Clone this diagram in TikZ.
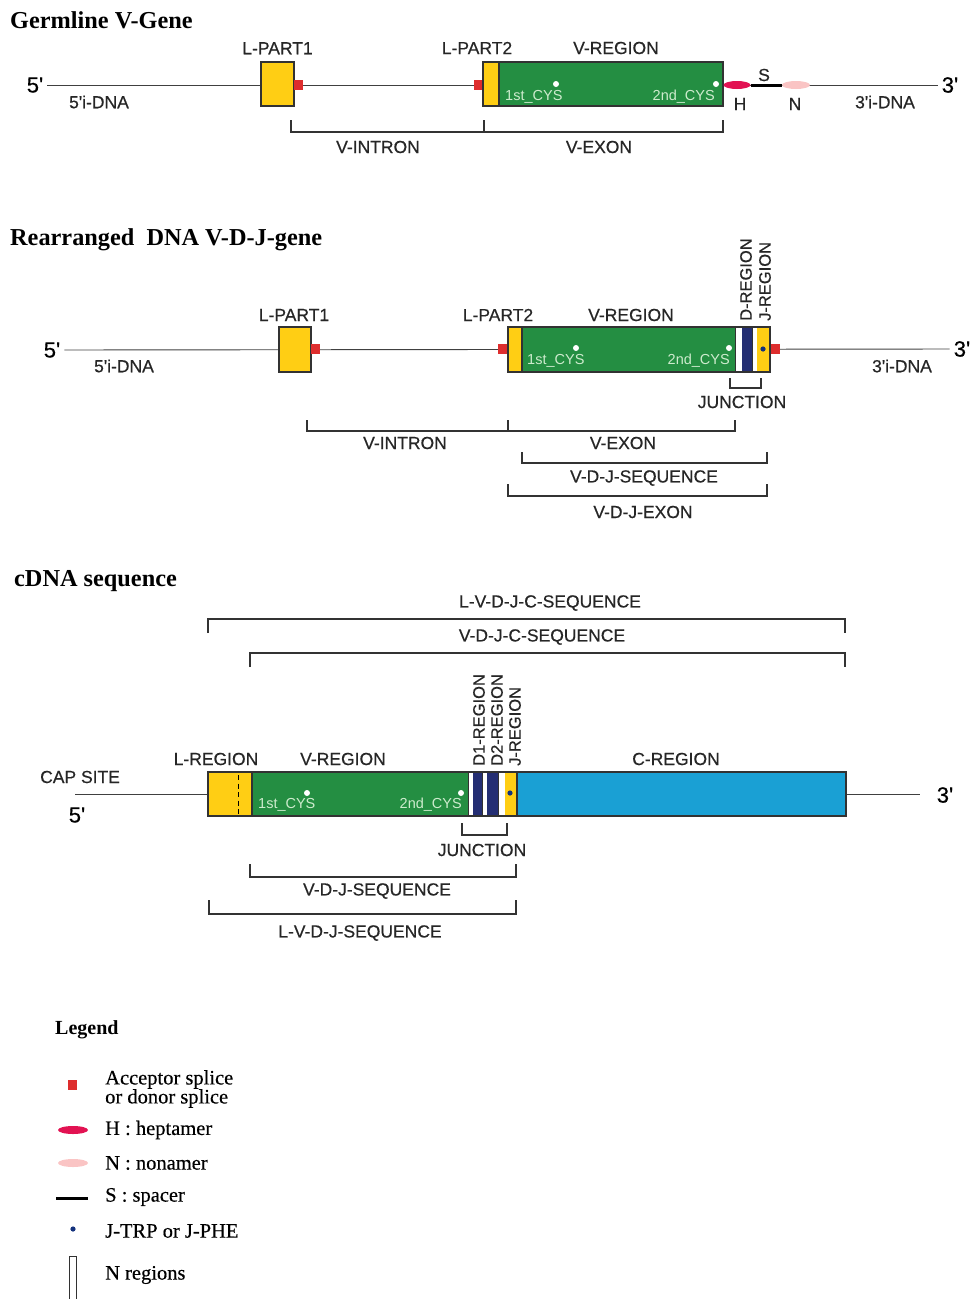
\documentclass[tikz,border=0pt]{standalone}
\usepackage{fontspec}
\setmainfont{Liberation Serif}
\setsansfont{Liberation Sans}
\newfontfamily\lblfont{Liberation Sans}[FakeBold=0.5]
\newfontfamily\legfont{Liberation Serif}[FakeBold=0.4]
\usepackage{tikz}
\usetikzlibrary{shapes.geometric, positioning}
\definecolor{LYellow}{RGB}{255, 206, 20}
\definecolor{VGreen}{RGB}{36, 142, 66}
\definecolor{DBlue}{RGB}{36, 46, 115}
\definecolor{CCyan}{RGB}{26, 160, 212}
\definecolor{SpliceRed}{RGB}{222, 45, 45}
\definecolor{HeptRed}{RGB}{226, 18, 82}
\definecolor{NonaPink}{RGB}{250, 196, 196}
\definecolor{JDot}{RGB}{20, 50, 125}
\definecolor{CysText}{RGB}{205, 235, 205}
\definecolor{Edge}{RGB}{50, 50, 50}

\begin{document}
\begin{tikzpicture}[
    x=1pt, y=-1pt,
    every node/.style={inner sep=0pt},
    lbl/.style={font=\lblfont\fontsize{17.5}{17.5}\selectfont, text=black!85},
    cys/.style={font=\sffamily\fontsize{14.5}{14.5}\selectfont, text=CysText},
    rlbl/.style={font=\lblfont\fontsize{16.5}{16.5}\selectfont, text=black!85, rotate=90, anchor=west},
    prime/.style={font=\lblfont\fontsize{22}{22}\selectfont, inner sep=4pt},
    title/.style={font=\bfseries\fontsize{24.3}{24.3}\selectfont, anchor=west},
    leg/.style={font=\legfont\fontsize{20.5}{19}\selectfont, anchor=west, align=left},
    edge/.style={draw=Edge, line width=1.1pt},
    yelbox/.style={rectangle, edge, fill=LYellow},
    outline/.style={rectangle, edge},
    nreg/.style={draw=Edge, line width=0.8pt, fill=white},
    dna/.style={draw=black!75, line width=0.9pt},
    brk/.style={draw=black!80, line width=1.1pt},
    splice/.style={rectangle, fill=SpliceRed, minimum width=9pt, minimum height=10pt},
    hept/.style={ellipse, fill=HeptRed, minimum width=27pt, minimum height=8pt},
    nona/.style={ellipse, fill=NonaPink, minimum width=28pt, minimum height=8pt},
    spacer/.style={draw=black, line width=3pt},
    cysdot/.style={fill=white},
    jdot/.style={fill=JDot}
  ]
    \useasboundingbox (0,0) rectangle (971,1299);

    % ---------------- Germline V-Gene ----------------
    \node[title] (gtitle) at (10,20) {Germline V-Gene};
    \node[prime] (g5) at (35,85) {5\textquotesingle};
    \node[prime] (g3) at (950,85) {3\textquotesingle};
    \draw[dna] (g5) -- (g3);
    \node[lbl] at (99,102) {5\textquotesingle i-DNA};
    \node[lbl] at (885,102) {3\textquotesingle i-DNA};

    \node[yelbox, minimum width=33pt, minimum height=44pt] (gl1) at (277.5,84) {};
    \node[lbl, above=7pt of gl1] {L-PART1};
    \node[splice] (gs1) at (298,85) {};
    \node[splice] (gs2) at (478,85) {};

    \fill[LYellow] (483,62) rectangle (499,106);
    \fill[VGreen] (499,62) rectangle (723,106);
    \draw[edge] (499,62) -- (499,106);
    \node[outline, minimum width=240pt, minimum height=44pt] (gv) at (603,84) {};
    \node[lbl] at (477,48) {L-PART2};
    \node[lbl] at (616,48) {V-REGION};
    \fill[cysdot] (556,84) circle (3pt);
    \fill[cysdot] (716,84) circle (3pt);
    \node[cys, anchor=west] at (505,97) {1st\_CYS};
    \node[cys, anchor=east] at (715,97) {2nd\_CYS};

    \node[hept] (gh) at (737,85) {};
    \node[nona] (gn) at (796,85) {};
    \draw[spacer] (gh.east) -- (gn.west);
    \node[lbl] at (740,104) {H};
    \node[lbl] at (764,75) {S};
    \node[lbl] at (795,104) {N};

    \draw[brk] (291,120) |- (723,132) -- (723,120);
    \draw[brk] (484,120) -- (484,132);
    \node[lbl] at (378,147) {V-INTRON};
    \node[lbl] at (599,147) {V-EXON};

    % ---------------- Rearranged DNA V-D-J-gene ----------------
    \node[title] (rtitle) at (10,240) {Rearranged\ \ DNA V-D-J-gene};
    \node[prime] (r5) at (52,350) {5\textquotesingle};
    \node[prime] (r3) at (962,349) {3\textquotesingle};
    \draw[dna] (r5) -- (r3);
    \node[lbl] at (124,366) {5\textquotesingle i-DNA};
    \node[lbl] at (902,366) {3\textquotesingle i-DNA};

    \node[yelbox, minimum width=32pt, minimum height=45pt] (rl1) at (295,349.5) {};
    \node[lbl] at (294,315) {L-PART1};
    \node[splice] (rs1) at (315.5,349) {};
    \node[splice] (rs2) at (502.5,349) {};
    \node[splice] (rs3) at (775,349) {};

    \fill[LYellow] (508,327) rectangle (522,372);
    \fill[VGreen] (522,327) rectangle (735,372);
    \draw[nreg] (735,327) rectangle (742,372);
    \fill[DBlue] (742,327) rectangle (752,372);
    \draw[nreg] (752,327) rectangle (757,372);
    \fill[LYellow] (757,327) rectangle (770,372);
    \draw[edge] (522,327) -- (522,372);
    \node[outline, minimum width=262pt, minimum height=45pt] (rv) at (639,349.5) {};
    \fill[jdot] (763,349) circle (2.6pt);
    \fill[cysdot] (576,348) circle (3pt);
    \fill[cysdot] (729,348) circle (3pt);
    \node[cys, anchor=west] at (527,361) {1st\_CYS};
    \node[cys, anchor=east] at (730,361) {2nd\_CYS};
    \node[lbl] at (498,315) {L-PART2};
    \node[lbl] at (631,315) {V-REGION};
    \node[rlbl] at (746,321) {D-REGION};
    \node[rlbl] at (765,321) {J-REGION};

    \draw[brk] (730,378) |- (761,388) -- (761,378);
    \node[lbl] at (742,402) {JUNCTION};
    \draw[brk] (307,420) |- (735,431) -- (735,420);
    \draw[brk] (508,420) -- (508,431);
    \node[lbl] at (405,443) {V-INTRON};
    \node[lbl] at (623,443) {V-EXON};
    \draw[brk] (522,452) |- (767,463) -- (767,452);
    \node[lbl] at (644,478) {V-D-J-SEQUENCE};
    \draw[brk] (508,484) |- (767,496) -- (767,484);
    \node[lbl] at (643,512) {V-D-J-EXON};

    % ---------------- cDNA sequence ----------------
    \node[title] (ctitle) at (14,581) {cDNA sequence};
    \node[lbl] at (550,603) {L-V-D-J-C-SEQUENCE};
    \draw[brk] (208,633) |- (845,619) -- (845,633);
    \node[lbl] at (542,637) {V-D-J-C-SEQUENCE};
    \draw[brk] (250,667) |- (845,653) -- (845,667);

    \fill[LYellow] (208,772) rectangle (252,816);
    \draw[draw=black, line width=1.8pt, dash pattern=on 5pt off 3.5pt] (238.5,775) -- (238.5,816);
    \fill[VGreen] (252,772) rectangle (468,816);
    \draw[nreg] (468,772) rectangle (473,816);
    \fill[DBlue] (473,772) rectangle (482,816);
    \draw[nreg] (482,772) rectangle (487,816);
    \fill[DBlue] (487,772) rectangle (498,816);
    \draw[nreg] (498,772) rectangle (505,816);
    \fill[LYellow] (505,772) rectangle (517,816);
    \fill[CCyan] (517,772) rectangle (846,816);
    \draw[edge] (252,772) -- (252,816);
    \draw[edge] (517,772) -- (517,816);
    \node[outline, minimum width=638pt, minimum height=44pt] (cbox) at (527,794) {};
    \fill[jdot] (510,793) circle (2.6pt);
    \fill[cysdot] (307,793) circle (3pt);
    \fill[cysdot] (461,793) circle (3pt);
    \node[cys, anchor=west] at (258,805) {1st\_CYS};
    \node[cys, anchor=east] at (462,805) {2nd\_CYS};

    \node[lbl] at (216,759) {L-REGION};
    \node[lbl] at (343,759) {V-REGION};
    \node[lbl] at (676,759) {C-REGION};
    \node[rlbl] at (479,766) {D1-REGION};
    \node[rlbl] at (497,766) {D2-REGION};
    \node[rlbl] at (515,766) {J-REGION};

    \node[lbl, anchor=west] at (40,777) {CAP SITE};
    \node[prime] at (77,815) {5\textquotesingle};
    \coordinate (c5) at (75,794);
    \coordinate (c3) at (920,794);
    \node[prime] at (945,795) {3\textquotesingle};
    \draw[dna] (c5) -- (cbox.west);
    \draw[dna] (cbox.east) -- (c3);

    \draw[brk] (462,823) |- (507,835) -- (507,823);
    \node[lbl] at (482,850) {JUNCTION};
    \draw[brk] (250,864) |- (516,877) -- (516,864);
    \node[lbl] at (377,891) {V-D-J-SEQUENCE};
    \draw[brk] (209,900) |- (516,914) -- (516,900);
    \node[lbl] at (360,933) {L-V-D-J-SEQUENCE};

    % ---------------- Legend ----------------
    \node[title, font=\bfseries\fontsize{20}{20}\selectfont] (legend) at (55,1030) {Legend};
    \node[splice] (kspl) at (72,1085) {};
    \node[leg] at (105,1089) {Acceptor splice\\or donor splice};
    \node[hept, minimum width=30pt] (khept) at (73,1130) {};
    \node[leg] at (105,1130) {H : heptamer};
    \node[nona, minimum width=30pt] (knona) at (73,1163) {};
    \node[leg] at (105,1163) {N : nonamer};
    \coordinate (ks1) at (56,1198);
    \coordinate (ks2) at (88,1198);
    \draw[spacer] (ks1) -- (ks2);
    \node[leg] at (105,1197) {S : spacer};
    \fill[jdot] (73,1229) circle (2.6pt);
    \node[leg] at (105,1231) {J-TRP or J-PHE};
    \draw[nreg] (69,1256) rectangle (76,1305);
    \node[leg] at (105,1275) {N regions};
\end{tikzpicture}
\end{document}
